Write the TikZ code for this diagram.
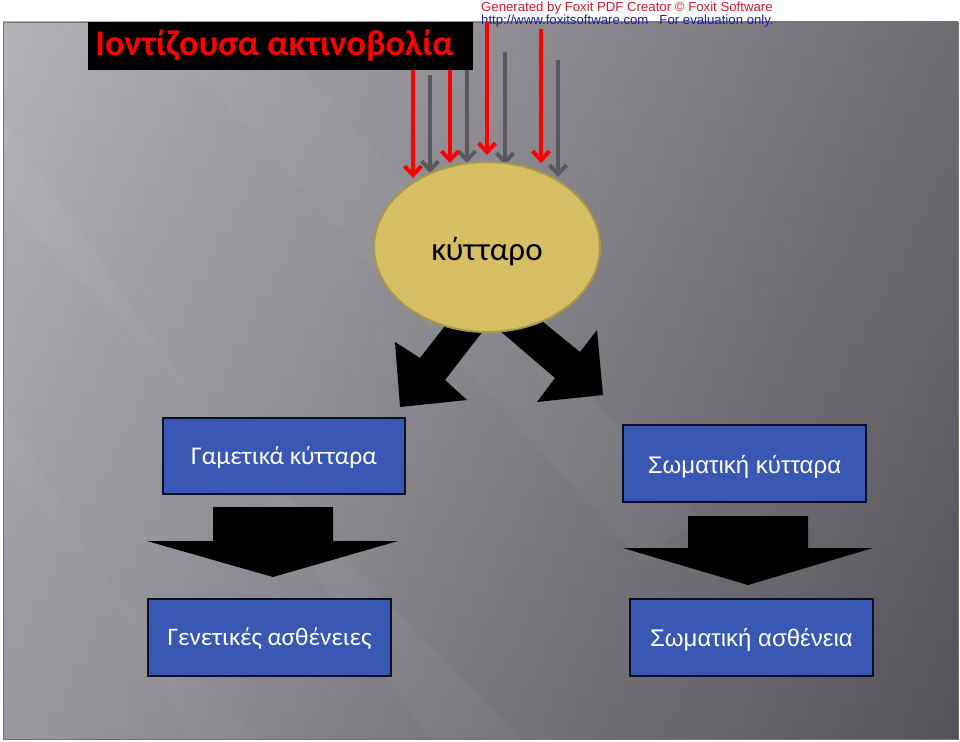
\documentclass[tikz,border=0pt]{standalone}
\usepackage{fontspec}
\setmainfont{Liberation Sans}
\newfontfamily\carl{Carlito}
\usetikzlibrary{arrows.meta,shapes.geometric}
\definecolor{bgL}{HTML}{ACAAB0}
\definecolor{bgM}{HTML}{858389}
\definecolor{bgR}{HTML}{5F5D63}
\definecolor{grayA}{HTML}{5A595F}
\definecolor{boxblue}{HTML}{3858B4}
\definecolor{boxedge}{HTML}{0A0F26}
\definecolor{cellfill}{HTML}{D5BE63}
\definecolor{celledge}{HTML}{A8964A}
\definecolor{foxred}{HTML}{C8202E}
\definecolor{foxblue}{HTML}{1C1CA8}
\begin{document}
\begin{tikzpicture}[x=1pt,y=-1pt,
  redarrow/.style={draw=red, line width=4, -{Straight Barb[length=9,width=17]}},
  grayarrow/.style={draw=grayA, line width=4, -{Straight Barb[length=9,width=17]}},
  bluebox/.style={fill=boxblue, draw=boxedge, line width=2, minimum width=243, minimum height=77, inner sep=0, text=white, text height=17, text depth=0},
  blockarrow/.style={fill=black}]
\useasboundingbox (0,0) rectangle (960,741);
\fill[white] (0,0) rectangle (960,741);
% slide background
\shade[left color=bgL, middle color=bgM, right color=bgR] (3,22) rectangle (958,739);
\shade[top color=white, bottom color=black, opacity=0.10] (3,22) rectangle (958,739);
\fill[white, opacity=0.035] (3,120) -- (3,200) -- (520,739) -- (430,739) -- cycle;
\fill[white, opacity=0.03] (150,22) -- (260,22) -- (700,520) -- (640,560) -- cycle;
\fill[white, opacity=0.025] (3,400) -- (3,470) -- (260,739) -- (190,739) -- cycle;
\draw[black!55, line width=0.8] (3,22) rectangle (958,739);
% watermark
\node[anchor=base west, inner sep=0, text=foxred, font=\fontsize{13.2}{14}\selectfont] (fox1) at (481,12) {Generated by Foxit PDF Creator © Foxit Software};
\node[anchor=base west, inner sep=0, text=foxblue, font=\fontsize{13.2}{14}\selectfont] (fox2) at (481,25) {http://www.foxitsoftware.com\ \ \ For evaluation only.};
% radiation arrows
\coordinate (g1s) at (430,75);  \coordinate (g1e) at (430,173);
\coordinate (g2s) at (467,70);  \coordinate (g2e) at (467,163);
\coordinate (g3s) at (505,52);  \coordinate (g3e) at (505,165);
\coordinate (g4s) at (558,60);  \coordinate (g4e) at (558,177);
\draw[grayarrow] (g1s) -- (g1e);
\draw[grayarrow] (g2s) -- (g2e);
\draw[grayarrow] (g3s) -- (g3e);
\draw[grayarrow] (g4s) -- (g4e);
\coordinate (r1s) at (413,70);  \coordinate (r1e) at (413,178);
\coordinate (r2s) at (450,70);  \coordinate (r2e) at (450,163);
\coordinate (r3s) at (487,22);  \coordinate (r3e) at (487,155);
\coordinate (r4s) at (541,29);  \coordinate (r4e) at (541,163);
\draw[redarrow] (r1s) -- (r1e);
\draw[redarrow] (r2s) -- (r2e);
\draw[redarrow] (r3s) -- (r3e);
\draw[redarrow] (r4s) -- (r4e);
% title
\node[fill=black, minimum width=385, minimum height=48, inner sep=0, text=red, text height=19, text depth=0,
      font=\carl\bfseries\fontsize{36}{36}\selectfont] (title) at (280.5,46) {Ιοντίζουσα ακτινοβολία\hspace*{12pt}};
% diagonal block arrows
\fill[blockarrow] (465,300) -- (420,358) -- (395,342) -- (400,407) -- (467,400) -- (445,380) -- (490,322) -- cycle;
\fill[blockarrow] (510,295) -- (580,352) -- (597,330) -- (603,395) -- (537,402) -- (555,378) -- (485,318) -- cycle;
% cell
\node[ellipse, draw=celledge, line width=2, fill=cellfill, minimum width=226, minimum height=170, inner sep=0,
      text height=27, text depth=0, font=\carl\fontsize{33}{33}\selectfont] (cell) at (487,247) {κύτταρο};
% boxes
\node[bluebox, minimum width=242, minimum height=76, font=\carl\fontsize{25.5}{26}\selectfont] (gam) at (284,456) {Γαμετικά κύτταρα};
\node[bluebox, font=\fontsize{24}{24}\selectfont, text height=19] (som) at (744.5,463.5) {Σωματική κύτταρα};
\node[bluebox, font=\carl\fontsize{25.2}{25}\selectfont, text height=15] (gen) at (269.5,637.5) {Γενετικές ασθένειες};
\node[bluebox, font=\fontsize{24}{24}\selectfont] (sas) at (751.5,637.5) {Σωματική ασθένεια};
% down block arrows
\fill[blockarrow] (213,507) -- (333,507) -- (333,541) -- (398,541) -- (273,577) -- (147,541) -- (213,541) -- cycle;
\fill[blockarrow] (688,516) -- (808,516) -- (808,548) -- (873,548) -- (748,585) -- (623,548) -- (688,548) -- cycle;
\end{tikzpicture}
\end{document}
